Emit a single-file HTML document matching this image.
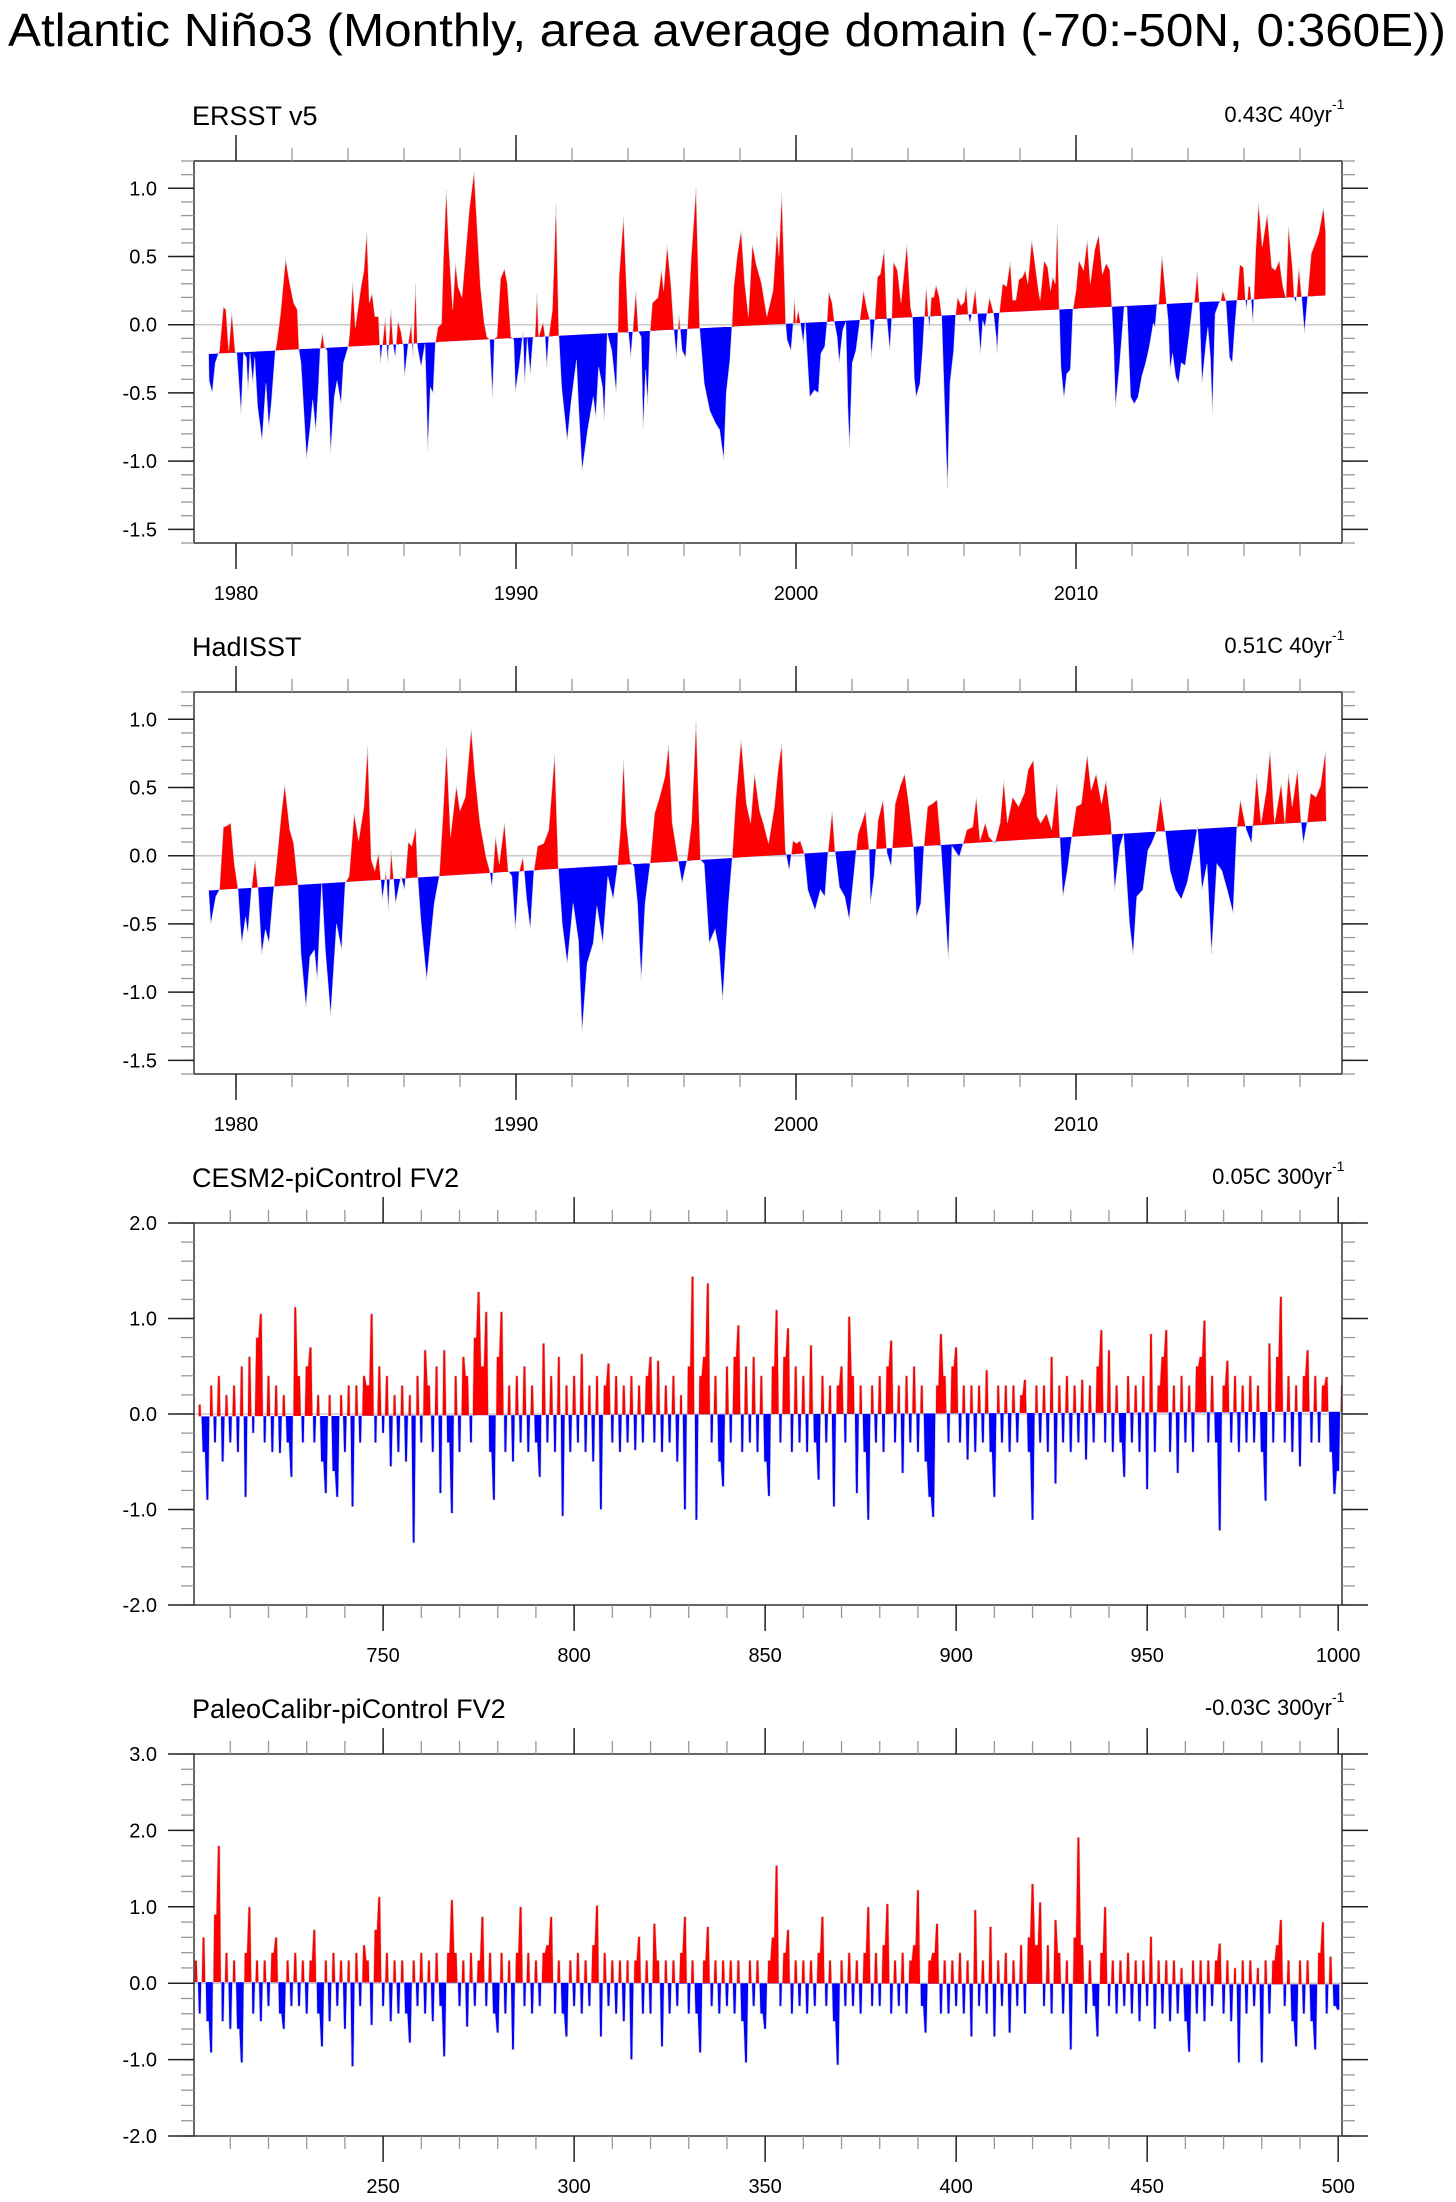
<!DOCTYPE html>
<html><head><meta charset="utf-8">
<style>
html,body{margin:0;padding:0;background:#fff;}
svg{display:block;font-family:"Liberation Sans",Arial,sans-serif;}
</style></head>
<body>
<svg id="fig" width="1456" height="2202" viewBox="0 0 1456 2202" xmlns="http://www.w3.org/2000/svg">
<text x="8" y="46" font-size="46" textLength="1438" lengthAdjust="spacingAndGlyphs" fill="#000">Atlantic Niño3 (Monthly, area average domain (-70:-50N, 0:360E))</text>
</svg>
<script>
// ---------- ERSST v5 data ----------
const ersstYears=[1979.02,1979.04,1979.15,1979.26,1979.36,1979.41,1979.55,1979.64,1979.74,1979.85,1979.97,1980.03,1980.18,1980.27,1980.37,1980.43,1980.50,1980.60,1980.67,1980.77,1980.93,1981.07,1981.17,1981.26,1981.40,1981.46,1981.59,1981.77,1981.92,1982.06,1982.19,1982.25,1982.32,1982.52,1982.65,1982.74,1982.85,1982.95,1983.01,1983.09,1983.15,1983.25,1983.38,1983.51,1983.61,1983.75,1983.84,1984.01,1984.06,1984.17,1984.26,1984.46,1984.57,1984.67,1984.76,1984.86,1984.96,1985.09,1985.16,1985.23,1985.33,1985.42,1985.53,1985.62,1985.69,1985.78,1985.89,1985.98,1986.02,1986.15,1986.26,1986.32,1986.41,1986.48,1986.61,1986.75,1986.81,1986.85,1986.94,1987.04,1987.12,1987.21,1987.34,1987.41,1987.51,1987.60,1987.74,1987.84,1987.93,1988.07,1988.20,1988.33,1988.50,1988.59,1988.73,1988.86,1988.96,1989.06,1989.16,1989.23,1989.32,1989.45,1989.59,1989.69,1989.82,1989.92,1989.98,1990.11,1990.18,1990.25,1990.31,1990.40,1990.51,1990.61,1990.68,1990.75,1990.81,1990.91,1990.97,1991.04,1991.10,1991.17,1991.30,1991.43,1991.53,1991.63,1991.83,1991.96,1992.16,1992.23,1992.36,1992.56,1992.76,1992.85,1992.95,1993.09,1993.15,1993.26,1993.42,1993.58,1993.64,1993.68,1993.84,1994.01,1994.10,1994.17,1994.28,1994.37,1994.47,1994.54,1994.63,1994.70,1994.79,1994.87,1995.07,1995.20,1995.27,1995.40,1995.53,1995.64,1995.73,1995.82,1995.93,1996.06,1996.12,1996.26,1996.43,1996.56,1996.72,1996.92,1997.12,1997.27,1997.42,1997.51,1997.64,1997.71,1997.78,1997.91,1998.04,1998.17,1998.30,1998.44,1998.57,1998.77,1998.96,1999.18,1999.32,1999.39,1999.49,1999.59,1999.63,1999.68,1999.82,1999.90,1999.94,2000.00,2000.08,2000.16,2000.26,2000.33,2000.39,2000.49,2000.66,2000.80,2000.89,2001.03,2001.11,2001.17,2001.29,2001.37,2001.47,2001.54,2001.67,2001.78,2001.85,2001.91,2002.01,2002.14,2002.28,2002.41,2002.54,2002.64,2002.69,2002.81,2002.91,2003.01,2003.15,2003.24,2003.35,2003.42,2003.48,2003.62,2003.75,2003.96,2004.09,2004.16,2004.22,2004.29,2004.43,2004.52,2004.59,2004.65,2004.76,2004.83,2004.92,2005.00,2005.12,2005.20,2005.30,2005.41,2005.50,2005.63,2005.70,2005.77,2005.90,2006.01,2006.08,2006.15,2006.21,2006.28,2006.40,2006.48,2006.59,2006.67,2006.75,2006.82,2006.91,2007.05,2007.15,2007.18,2007.26,2007.38,2007.52,2007.65,2007.74,2007.85,2007.96,2008.09,2008.19,2008.28,2008.42,2008.52,2008.66,2008.72,2008.86,2008.99,2009.09,2009.17,2009.26,2009.33,2009.40,2009.46,2009.57,2009.67,2009.80,2009.89,2010.00,2010.10,2010.27,2010.40,2010.51,2010.67,2010.81,2010.94,2011.08,2011.21,2011.28,2011.35,2011.41,2011.55,2011.72,2011.82,2011.95,2012.08,2012.22,2012.35,2012.49,2012.62,2012.76,2012.82,2012.89,2012.96,2013.07,2013.23,2013.29,2013.36,2013.45,2013.56,2013.66,2013.76,2013.90,2014.03,2014.17,2014.23,2014.33,2014.40,2014.50,2014.64,2014.71,2014.80,2014.87,2014.97,2015.11,2015.17,2015.24,2015.35,2015.42,2015.48,2015.58,2015.67,2015.75,2015.85,2015.98,2016.05,2016.09,2016.16,2016.22,2016.32,2016.42,2016.52,2016.65,2016.83,2016.99,2017.12,2017.26,2017.39,2017.50,2017.59,2017.73,2017.79,2017.86,2017.96,2018.06,2018.16,2018.27,2018.40,2018.53,2018.67,2018.84,2018.91];
const ersstValues=[-0.21,-0.41,-0.50,-0.28,-0.22,-0.19,0.13,0.11,-0.19,0.09,-0.20,-0.21,-0.65,-0.21,-0.24,-0.48,-0.21,-0.43,-0.24,-0.60,-0.85,-0.43,-0.75,-0.58,-0.20,-0.13,0.08,0.48,0.30,0.16,0.11,-0.19,-0.28,-0.98,-0.75,-0.55,-0.78,-0.43,-0.17,-0.06,-0.16,-0.19,-0.94,-0.53,-0.41,-0.58,-0.28,-0.16,-0.06,0.31,-0.02,0.27,0.40,0.68,0.16,0.23,0.06,0.06,-0.28,-0.15,0.05,-0.28,0.11,-0.16,-0.24,0.03,-0.05,-0.16,-0.38,-0.14,0.01,-0.24,0.30,-0.16,-0.31,-0.14,-0.58,-0.92,-0.46,-0.50,-0.14,-0.02,0.01,0.50,0.99,0.57,0.11,0.45,0.28,0.20,0.52,0.84,1.12,0.79,0.28,0.02,-0.09,-0.11,-0.53,-0.10,-0.09,0.34,0.41,0.30,-0.09,-0.11,-0.49,-0.31,-0.19,-0.05,-0.43,-0.10,-0.36,-0.09,-0.09,0.23,-0.09,-0.02,0.02,-0.09,-0.31,-0.09,0.11,0.89,-0.08,-0.46,-0.85,-0.58,-0.26,-0.58,-1.07,-0.77,-0.53,-0.68,-0.31,-0.46,-0.70,-0.06,-0.19,-0.50,-0.06,0.35,0.79,-0.04,-0.24,-0.05,0.25,-0.05,-0.09,-0.77,-0.33,-0.58,-0.05,0.16,0.20,0.40,0.25,0.58,0.30,-0.04,-0.24,0.08,-0.19,-0.24,-0.04,0.50,1.00,-0.03,-0.43,-0.63,-0.72,-0.77,-0.99,-0.50,-0.26,-0.02,0.28,0.52,0.69,0.30,0.06,0.59,0.45,0.30,0.06,0.25,0.69,0.50,0.97,0.30,0.01,-0.11,-0.19,0.01,0.20,0.01,0.11,0.01,-0.14,0.03,-0.19,-0.53,-0.48,-0.50,-0.21,-0.16,0.02,0.24,0.16,0.02,-0.09,-0.28,-0.04,0.02,-0.60,-0.90,-0.28,-0.19,0.03,0.25,0.11,0.03,-0.24,0.03,0.35,0.37,0.55,0.06,-0.19,0.05,0.46,0.40,0.16,0.59,0.13,0.06,-0.38,-0.53,-0.43,-0.19,0.06,0.28,-0.04,0.20,0.20,0.29,0.20,0.07,-0.55,-1.20,-0.43,-0.19,0.07,0.20,0.14,0.17,0.28,0.08,0.01,0.08,0.26,0.08,-0.21,0.03,-0.02,0.08,0.20,0.09,-0.09,-0.21,0.08,0.30,0.28,0.46,0.18,0.18,0.33,0.35,0.40,0.30,0.62,0.47,0.25,0.18,0.47,0.42,0.25,0.35,0.30,0.74,0.11,-0.31,-0.54,-0.36,-0.33,0.11,0.25,0.47,0.40,0.62,0.30,0.55,0.66,0.37,0.45,0.40,0.13,-0.19,-0.60,-0.31,0.13,0.13,-0.53,-0.58,-0.53,-0.38,-0.28,-0.16,0.01,-0.02,0.14,0.16,0.51,0.16,0.03,-0.33,-0.21,-0.38,-0.43,-0.28,-0.30,-0.09,0.16,0.17,0.39,0.17,-0.43,-0.14,-0.02,-0.24,-0.65,0.08,0.16,0.17,0.25,0.18,-0.04,-0.24,-0.28,-0.02,0.18,0.44,0.42,0.18,0.11,0.28,0.28,0.01,0.55,0.89,0.57,0.81,0.42,0.40,0.47,0.28,0.19,0.72,0.42,0.20,0.16,0.42,0.20,-0.06,0.20,0.52,0.59,0.67,0.86,0.69];
const ersstTrend=[-0.215,0.215];

// ---------- HadISST data ----------
const hadYears=[1979.02,1979.10,1979.28,1979.41,1979.55,1979.68,1979.81,1979.94,1980.07,1980.15,1980.21,1980.34,1980.42,1980.55,1980.68,1980.79,1980.92,1981.05,1981.18,1981.32,1981.47,1981.61,1981.74,1981.92,1982.06,1982.21,1982.32,1982.50,1982.64,1982.80,1982.90,1983.06,1983.19,1983.38,1983.59,1983.77,1983.90,1984.04,1984.22,1984.38,1984.57,1984.70,1984.83,1984.96,1985.09,1985.23,1985.36,1985.44,1985.54,1985.70,1985.89,1986.02,1986.15,1986.28,1986.42,1986.49,1986.60,1986.81,1987.08,1987.26,1987.39,1987.52,1987.66,1987.87,1988.00,1988.19,1988.40,1988.53,1988.71,1988.93,1989.06,1989.14,1989.27,1989.40,1989.59,1989.72,1989.85,1989.98,1990.11,1990.25,1990.38,1990.51,1990.64,1990.77,1990.99,1991.17,1991.38,1991.51,1991.65,1991.83,1992.04,1992.23,1992.36,1992.54,1992.76,1992.89,1993.10,1993.28,1993.47,1993.63,1993.73,1993.84,1993.94,1994.08,1994.21,1994.34,1994.47,1994.61,1994.79,1994.95,1995.13,1995.32,1995.45,1995.58,1995.79,1995.93,1996.11,1996.27,1996.43,1996.59,1996.72,1996.90,1997.11,1997.25,1997.38,1997.59,1997.72,1997.85,1998.04,1998.23,1998.38,1998.52,1998.70,1998.83,1999.02,1999.23,1999.36,1999.49,1999.62,1999.76,1999.89,2000.02,2000.15,2000.29,2000.42,2000.68,2000.87,2001.03,2001.13,2001.29,2001.39,2001.55,2001.74,2001.90,2002.06,2002.21,2002.35,2002.48,2002.61,2002.66,2002.79,2002.93,2003.11,2003.25,2003.40,2003.54,2003.72,2003.88,2004.04,2004.19,2004.30,2004.46,2004.57,2004.70,2004.86,2005.04,2005.17,2005.36,2005.44,2005.57,2005.83,2005.97,2006.10,2006.31,2006.44,2006.57,2006.76,2006.89,2007.10,2007.29,2007.42,2007.55,2007.74,2007.95,2008.16,2008.29,2008.48,2008.61,2008.74,2008.95,2009.13,2009.32,2009.43,2009.53,2009.69,2009.85,2010.01,2010.19,2010.40,2010.54,2010.72,2010.91,2011.07,2011.25,2011.38,2011.57,2011.70,2011.91,2012.04,2012.17,2012.39,2012.57,2012.70,2012.84,2013.02,2013.18,2013.36,2013.55,2013.76,2013.97,2014.16,2014.34,2014.50,2014.68,2014.84,2015.03,2015.21,2015.40,2015.61,2015.74,2015.87,2016.08,2016.27,2016.45,2016.61,2016.80,2016.93,2017.09,2017.33,2017.46,2017.59,2017.72,2017.91,2018.04,2018.12,2018.25,2018.38,2018.57,2018.73,2018.91,2018.94];
const hadValues=[-0.25,-0.50,-0.30,-0.25,0.21,0.22,0.24,-0.06,-0.24,-0.50,-0.64,-0.45,-0.57,-0.25,-0.03,-0.25,-0.72,-0.54,-0.64,-0.30,-0.01,0.29,0.52,0.19,0.09,-0.21,-0.72,-1.11,-0.74,-0.69,-0.91,-0.20,-0.69,-1.17,-0.50,-0.69,-0.20,-0.15,0.31,0.11,0.36,0.80,-0.03,-0.11,0.02,-0.32,-0.11,-0.40,0.04,-0.35,-0.15,-0.25,0.10,0.07,0.21,-0.15,-0.47,-0.91,-0.35,-0.15,0.29,0.79,0.14,0.51,0.33,0.43,0.93,0.60,0.24,-0.01,-0.11,-0.23,0.14,-0.06,0.24,-0.11,-0.15,-0.54,-0.12,-0.01,-0.32,-0.54,-0.11,0.07,0.09,0.19,0.74,-0.08,-0.50,-0.79,-0.35,-0.62,-1.29,-0.79,-0.64,-0.37,-0.64,-0.15,-0.32,-0.07,0.19,0.70,0.24,-0.04,-0.08,-0.35,-0.91,-0.35,-0.06,0.31,0.43,0.58,0.81,0.24,-0.03,-0.20,-0.03,0.24,0.98,-0.03,-0.06,-0.64,-0.54,-0.69,-1.06,-0.35,-0.02,0.41,0.85,0.38,0.24,0.60,0.33,0.24,0.09,0.36,0.63,0.82,0.04,-0.11,0.11,0.09,0.11,0.02,-0.25,-0.40,-0.25,-0.30,-0.01,0.33,0.04,-0.23,-0.30,-0.47,-0.15,0.16,0.24,0.33,0.04,-0.35,-0.15,0.26,0.41,0.02,-0.08,0.38,0.51,0.60,0.36,0.07,-0.45,-0.35,0.07,0.36,0.38,0.41,0.09,-0.50,-0.76,0.07,-0.01,0.09,0.19,0.21,0.43,0.11,0.24,0.14,0.09,0.24,0.55,0.24,0.43,0.36,0.46,0.63,0.70,0.29,0.24,0.31,0.19,0.53,0.11,-0.30,-0.11,0.14,0.36,0.38,0.74,0.48,0.60,0.38,0.55,0.24,-0.25,0.07,0.16,-0.50,-0.72,-0.30,-0.25,0.04,0.09,0.16,0.43,0.19,-0.11,-0.25,-0.32,-0.20,-0.01,0.21,-0.25,-0.06,-0.72,-0.06,-0.11,-0.25,-0.42,0.19,0.41,0.19,0.09,0.60,0.24,0.48,0.77,0.24,0.53,0.24,0.60,0.36,0.63,0.24,0.09,0.24,0.46,0.43,0.51,0.77,0.25];
const hadTrend=[-0.255,0.255];

// ---------- CESM2-piControl FV2 (annual) ----------
const cesmStartYear=702;
const cesmValues=[
0.1,-0.4,-0.9,0.3,-0.3,0.4,-0.5,0.2,-0.3,0.3,
-0.4,0.5,-0.87,0.6,-0.2,0.8,1.05,-0.3,0.4,-0.4,
0.3,-0.41,0.2,-0.3,-0.66,1.12,0.4,-0.3,0.5,0.7,
-0.3,0.2,-0.5,-0.83,0.2,-0.6,-0.87,0.2,-0.4,0.3,
-0.97,0.3,-0.3,0.4,0.3,1.05,-0.3,0.5,-0.2,0.4,
-0.55,0.2,-0.4,0.3,-0.5,0.2,-1.35,0.4,-0.3,0.67,
0.3,-0.4,0.5,-0.83,0.67,-0.3,-1.04,0.4,-0.4,0.6,
0.4,-0.3,0.8,1.28,0.5,1.07,-0.4,-0.9,0.6,1.07,
-0.4,0.3,-0.5,0.4,-0.3,0.5,-0.4,0.3,-0.3,-0.66,
0.74,-0.3,0.4,-0.4,0.6,-1.07,0.3,-0.4,0.4,-0.3,
0.63,-0.4,0.3,-0.5,0.4,-1.0,0.3,0.53,-0.3,0.4,
-0.4,0.3,-0.3,0.4,-0.38,0.3,-0.3,0.4,0.6,-0.3,
0.56,-0.4,0.3,-0.3,0.4,-0.5,0.2,-1.0,0.5,1.44,
-1.11,0.4,0.6,1.37,-0.3,0.4,-0.5,-0.76,0.5,-0.3,
0.6,0.93,-0.4,0.5,-0.3,0.6,-0.4,0.4,-0.5,-0.86,
0.5,1.09,-0.3,0.6,0.9,-0.4,0.5,-0.3,0.4,-0.4,
0.72,-0.3,-0.69,0.4,-0.3,0.3,-0.97,0.3,0.5,-0.3,
1.02,0.4,-0.83,0.3,-0.4,-1.11,0.3,-0.3,0.4,-0.4,
0.5,0.77,-0.3,0.3,-0.62,0.4,-0.3,0.5,-0.4,0.3,
-0.5,-0.87,-1.08,0.3,0.84,0.4,-0.3,0.5,0.7,-0.3,
0.3,-0.48,0.3,-0.4,0.3,-0.3,0.46,-0.4,-0.87,0.3,
-0.3,0.3,-0.4,0.3,-0.3,0.2,0.36,-0.4,-1.11,0.3,
-0.3,0.3,-0.4,0.6,-0.73,0.3,-0.3,0.4,-0.4,0.3,
-0.3,0.36,-0.48,0.3,-0.3,0.5,0.88,-0.3,0.67,-0.4,
0.3,-0.3,-0.66,0.4,-0.3,0.3,-0.4,0.4,-0.79,0.84,
-0.4,0.3,0.6,0.88,-0.4,0.3,-0.62,0.4,-0.3,0.3,
-0.4,0.5,0.6,0.98,-0.3,0.4,-0.3,-1.22,0.3,0.56,
-0.3,0.4,-0.4,0.3,-0.3,0.4,-0.3,0.3,-0.4,-0.91,
0.74,-0.3,0.6,1.23,-0.3,0.4,-0.4,0.3,-0.55,0.4,
0.67,-0.3,0.4,-0.3,0.3,0.39,-0.4,-0.84,-0.6,0.3];
const cesmTrend=[-0.025,0.025];

// ---------- PaleoCalibr-piControl FV2 (annual) ----------
const paleoStartYear=201;
const paleoValues=[
0.3,-0.4,0.6,-0.5,-0.91,0.9,1.8,-0.5,0.4,-0.6,
0.3,-0.6,-1.04,0.4,1.0,-0.4,0.3,-0.5,0.3,-0.3,
0.4,0.6,-0.4,-0.6,0.3,-0.3,0.4,-0.3,0.3,-0.4,
0.3,0.7,-0.4,-0.83,0.3,-0.5,0.4,-0.3,0.3,-0.6,
0.3,-1.09,0.4,-0.3,0.5,0.3,-0.55,0.7,1.13,-0.3,
0.4,-0.5,0.3,-0.4,0.3,-0.4,-0.78,0.3,-0.3,0.4,
-0.4,0.3,-0.5,0.4,-0.3,-0.96,0.4,1.09,0.4,-0.3,
0.3,-0.57,0.4,-0.3,0.3,0.87,-0.3,0.4,-0.4,-0.65,
0.4,-0.4,0.3,-0.87,0.4,1.0,-0.3,0.4,-0.4,0.3,
-0.3,0.4,0.5,0.87,-0.4,0.3,-0.4,-0.7,0.3,-0.3,
0.4,-0.4,0.3,-0.3,0.5,1.02,-0.7,0.4,-0.3,0.3,
-0.4,0.3,-0.5,0.3,-1.0,0.3,0.61,-0.4,0.3,-0.4,
0.78,0.3,-0.83,0.3,-0.4,0.3,-0.3,0.4,0.87,-0.4,
0.3,-0.4,-0.91,0.3,0.74,-0.3,0.3,-0.4,0.3,-0.3,
0.3,-0.4,0.3,-0.5,-1.04,0.3,-0.3,0.3,-0.4,-0.6,
0.3,0.6,1.54,-0.3,0.4,0.7,-0.4,0.3,-0.3,0.3,
-0.4,0.3,-0.3,0.4,0.87,-0.3,0.3,-0.5,-1.07,0.3,
-0.3,0.4,-0.3,0.3,-0.4,0.4,1.0,-0.3,0.4,-0.3,
0.5,1.04,-0.4,0.3,-0.3,0.4,-0.4,0.3,0.5,1.22,
-0.3,-0.65,0.3,0.4,0.78,-0.4,0.3,-0.4,0.3,-0.3,
0.4,-0.4,0.3,-0.7,0.96,-0.3,0.3,-0.4,0.74,-0.7,
0.3,-0.3,0.4,-0.65,0.3,-0.3,0.5,-0.4,0.6,1.3,
0.5,1.06,-0.3,0.5,-0.4,0.83,0.4,-0.4,0.3,-0.87,
0.6,1.91,0.5,-0.4,0.3,-0.3,-0.7,0.4,1.0,-0.3,
0.3,-0.4,0.3,-0.3,0.4,-0.4,0.3,-0.5,0.3,-0.3,
0.61,-0.6,0.3,-0.4,0.3,-0.5,0.3,-0.4,0.2,-0.5,
-0.9,0.3,-0.4,0.3,-0.5,0.3,-0.3,0.3,0.52,-0.4,
0.3,-0.5,0.2,-1.04,0.3,-0.4,0.3,-0.3,0.2,-1.04,
0.3,-0.4,0.3,0.5,0.83,-0.3,0.3,-0.5,-0.83,0.3,
-0.4,0.3,-0.5,-0.87,0.4,0.8,-0.4,0.35,-0.3,-0.35];
const paleoTrend=[0.015,-0.015];

// ---------- tick label arrays ----------
const obsYTicks=[-1.5,-1.0,-0.5,0.0,0.5,1.0];
const obsXTicks=[1980,1990,2000,2010];
const cesmYTicks=[-2.0,-1.0,0.0,1.0,2.0];
const cesmXTicks=[750,800,850,900,950,1000];
const paleoYTicks=[-2.0,-1.0,0.0,1.0,2.0,3.0];
const paleoXTicks=[250,300,350,400,450,500];

const NS='http://www.w3.org/2000/svg';
const svg=document.getElementById('fig');
function mk(tag,attrs,parent){const e=document.createElementNS(NS,tag);for(const k in attrs)e.setAttribute(k,attrs[k]);(parent||svg).appendChild(e);return e;}
function fmt(v){return v.toFixed(1);}

function drawPanel(cfg,idx){
  const L=194,R=1342,T=cfg.top,B=cfg.top+382;
  const g=mk('g',{});
  
  
  const xs=t=>L+(t-cfg.xd[0])/(cfg.xd[1]-cfg.xd[0])*(R-L);
  const ys=v=>B-(v-cfg.yd[0])/(cfg.yd[1]-cfg.yd[0])*(B-T);
  const trend=t=>cfg.trend[0]+(cfg.trend[1]-cfg.trend[0])*(t-cfg.tr[0])/(cfg.tr[1]-cfg.tr[0]);
  const defs=mk('defs',{},g);
  const cu=mk('clipPath',{id:'cu'+idx},defs);
  const cd=mk('clipPath',{id:'cd'+idx},defs);
  const t0=cfg.xd[0],t1=cfg.xd[1];
  mk('polygon',{points:`${L},${ys(trend(t0))} ${R},${ys(trend(t1))} ${R},${T} ${L},${T}`},cu);
  mk('polygon',{points:`${L},${ys(trend(t0))} ${R},${ys(trend(t1))} ${R},${B} ${L},${B}`},cd);
  const zl=mk('line',{x1:L,x2:R,y1:ys(0),y2:ys(0),stroke:'#c8c8c8','stroke-width':1.5},g);
  
  
  const tt=cfg.times,vv=cfg.values;
  // build point list: for stepped (annual) series, each value is held over a short plateau
  const pts=[];
  for(let i=0;i<tt.length;i++){
    if(cfg.step){pts.push([tt[i]-cfg.step,vv[i]]);pts.push([tt[i]+cfg.step,vv[i]]);}
    else pts.push([tt[i],vv[i]]);
  }
  let d='M'+xs(pts[0][0]).toFixed(2)+','+ys(trend(pts[0][0])).toFixed(2);
  pts.forEach(p=>{d+='L'+xs(p[0]).toFixed(2)+','+ys(p[1]).toFixed(2);});
  const lp=pts[pts.length-1][0];
  d+='L'+xs(lp).toFixed(2)+','+ys(trend(lp)).toFixed(2)+'Z';
  const up=mk('path',{d:d,fill:'#ff0000','clip-path':`url(#cu${idx})`},g);
  
  
  const dn=mk('path',{d:d,fill:'#0000ff','clip-path':`url(#cd${idx})`},g);
  
  
  let ld='';
  pts.forEach((p,i)=>{ld+=(i?'L':'M')+xs(p[0]).toFixed(2)+','+ys(p[1]).toFixed(2);});
  const ln=mk('path',{d:ld,fill:'none',stroke:'#d0d0d0','stroke-width':0.6},g);
  
  
  const bx=mk('rect',{x:L,y:T,width:R-L,height:B-T,fill:'none',stroke:'#333','stroke-width':1.5},g);
  
  
  for(let v=cfg.yd[0];v<=cfg.yd[1]+1e-6;v+=cfg.yMinor){
    const y=ys(v);
    mk('line',{x1:L-13,x2:L,y1:y,y2:y,stroke:'#999','stroke-width':1.3},g);
    mk('line',{x1:R,x2:R+13,y1:y,y2:y,stroke:'#999','stroke-width':1.3},g);
  }
  cfg.yTicks.forEach(v=>{
    const y=ys(v);
    mk('line',{x1:L-26,x2:L,y1:y,y2:y,stroke:'#222','stroke-width':1.5},g);
    mk('line',{x1:R,x2:R+26,y1:y,y2:y,stroke:'#222','stroke-width':1.5},g);
    const tx=mk('text',{x:157,y:y+7,'font-size':20,'text-anchor':'end',fill:'#000'},g);
    
    
    tx.textContent=fmt(v);
  });
  for(let t=cfg.xMinorStart;t<=cfg.xd[1];t+=cfg.xMinor){
    const x=xs(t);
    mk('line',{x1:x,x2:x,y1:B,y2:B+13,stroke:'#999','stroke-width':1.3},g);
    mk('line',{x1:x,x2:x,y1:T-13,y2:T,stroke:'#999','stroke-width':1.3},g);
  }
  cfg.xTicks.forEach(t=>{
    const x=xs(t);
    mk('line',{x1:x,x2:x,y1:B,y2:B+26,stroke:'#222','stroke-width':1.5},g);
    mk('line',{x1:x,x2:x,y1:T-26,y2:T,stroke:'#222','stroke-width':1.5},g);
    const tx=mk('text',{x:x,y:B+57,'font-size':20,'text-anchor':'middle',fill:'#000'},g);
    
    
    tx.textContent=t;
  });
  const tl=mk('text',{x:192,y:T-36,'font-size':27,fill:'#000'},g);
  
  
  tl.textContent=cfg.title;
  const rt=mk('text',{x:R-10,y:T-39,'font-size':22,'text-anchor':'end',fill:'#000'},g);
  
  
  rt.textContent=cfg.note;
  const sp=mk('text',{x:R-10,y:T-52,'font-size':14,fill:'#000'},g);
  
  
  sp.textContent='-1';
}

const cesmYears=cesmValues.map((v,i)=>cesmStartYear+i);
const paleoYears=paleoValues.map((v,i)=>paleoStartYear+i);

drawPanel({name:'ersst',title:'ERSST v5',note:'0.43C 40yr',top:161,xd:[1978.5,2019.5],yd:[-1.6,1.2],times:ersstYears,values:ersstValues,trend:ersstTrend,tr:[1979,2019],yTicks:obsYTicks,yMinor:0.1,xTicks:obsXTicks,xMinor:2,xMinorStart:1980},0);
drawPanel({name:'hadisst',title:'HadISST',note:'0.51C 40yr',top:692,xd:[1978.5,2019.5],yd:[-1.6,1.2],times:hadYears,values:hadValues,trend:hadTrend,tr:[1979,2019],yTicks:obsYTicks,yMinor:0.1,xTicks:obsXTicks,xMinor:2,xMinorStart:1980},1);
drawPanel({name:'cesm2',title:'CESM2-piControl FV2',note:'0.05C 300yr',top:1223,xd:[700.5,1001],yd:[-2,2],times:cesmYears,values:cesmValues,trend:cesmTrend,tr:[702,1001],yTicks:cesmYTicks,yMinor:0.2,xTicks:cesmXTicks,xMinor:10,xMinorStart:710,step:0.3},2);
drawPanel({name:'paleocalibr',title:'PaleoCalibr-piControl FV2',note:'-0.03C 300yr',top:1754,xd:[200.5,501],yd:[-2,3],times:paleoYears,values:paleoValues,trend:paleoTrend,tr:[201,500],yTicks:paleoYTicks,yMinor:0.2,xTicks:paleoXTicks,xMinor:10,xMinorStart:210,step:0.3},3);
</script>
</body></html>
